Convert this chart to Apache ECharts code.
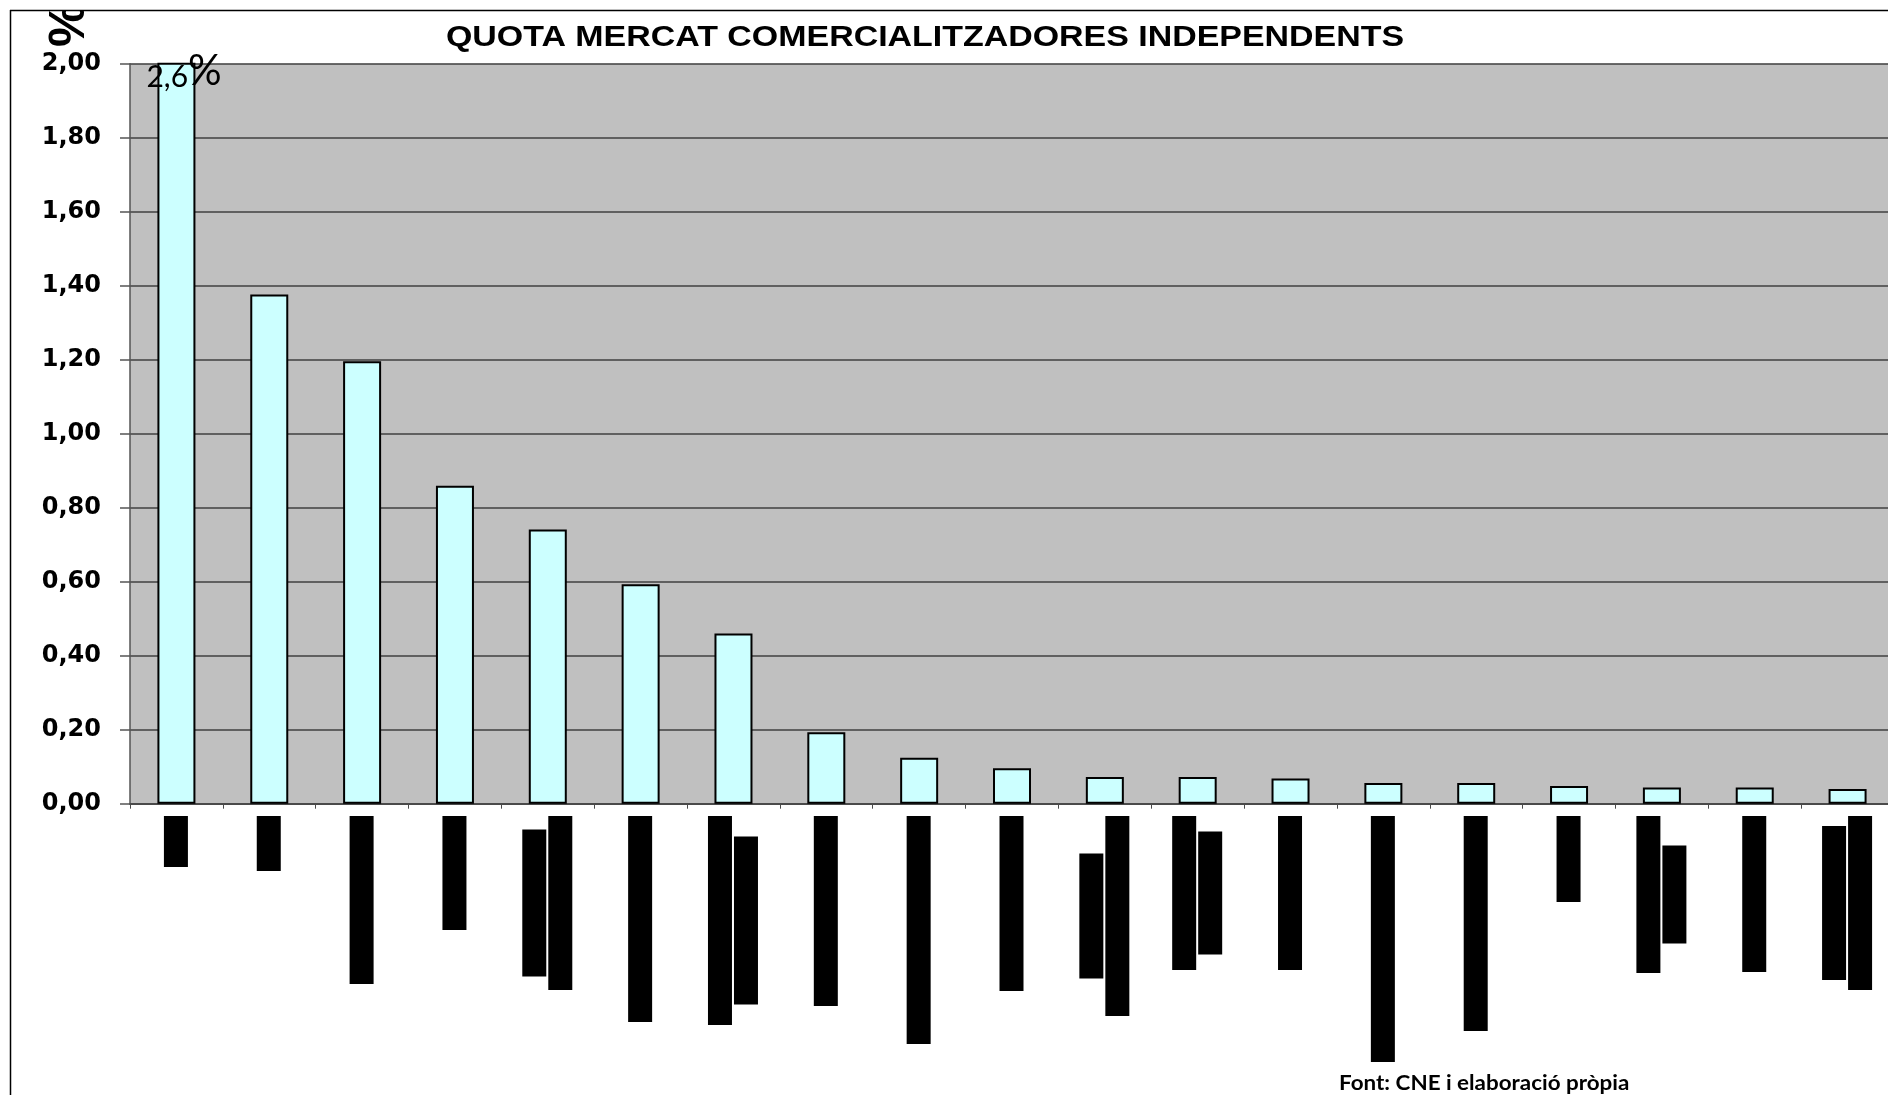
<!DOCTYPE html>
<html><head><meta charset="utf-8">
<script src="https://cdn.jsdelivr.net/npm/echarts@6/dist/echarts.min.js"></script>
<style>html,body{margin:0;padding:0;background:#fff;}#c{width:1888px;height:1095px;}</style>
</head><body><div id="c"></div>
<script>
// ---- data ----
const chartTitle = 'QUOTA MERCAT COMERCIALITZADORES INDEPENDENTS';
const sourceNote = 'Font: CNE i elaboració pròpia';
const yAxisName = '%';
const categories = ['C01','C02','C03','C04','C05','C06','C07','C08','C09','C10',
                    'C11','C12','C13','C14','C15','C16','C17','C18','C19'];
const quota = [2.6, 1.376, 1.196, 0.859, 0.741, 0.593, 0.46, 0.193, 0.124, 0.096,
               0.072, 0.072, 0.068, 0.056, 0.056, 0.048, 0.044, 0.044, 0.040];
const yMin = 0, yMax = 2, yStep = 0.2;
// category names are redacted in the source: length of each black bar (per label line)
const redactedLabelLines = [[51],[55],[168],[114],[147,174],[206],[209,168],[190],[228],[175],
                            [125,200],[154,123],[154],[246],[215],[86],[157,98],[156],[154,174]];

// ---- build ----
const redactData = [];
redactedLabelLines.forEach((lines, ci) => {
  const maxLen = Math.max(...lines);
  lines.forEach((len, li) => {
    const start = (maxLen - len) / 2;
    redactData.push([ci, start, start + len, li - (lines.length - 1) / 2]);
  });
});
const fmt = v => v.toFixed(2).replace('.', ',');

const chart = echarts.init(document.getElementById('c'), null, {renderer: 'canvas'});
const GRID_LEFT = 130, GRID_WIDTH = 1764;
chart.setOption({
  backgroundColor: '#fff',
  animation: false,
  grid: [
    {left: GRID_LEFT, width: GRID_WIDTH, top: 63.7, height: 740, show: true,
     backgroundColor: '#C0C0C0', borderWidth: 0, containLabel: false, outerBoundsMode: 'none'},
    {left: GRID_LEFT, width: GRID_WIDTH, top: 816, height: 260, show: false,
     containLabel: false, outerBoundsMode: 'none'}
  ],
  xAxis: [
    {type: 'category', gridIndex: 0, data: categories, boundaryGap: true,
     axisLine: {lineStyle: {color: '#4a4a4a', width: 2}},
     axisTick: {show: true, interval: 0, length: 5, lineStyle: {color: '#4a4a4a', width: 1}},
     axisLabel: {show: false}, splitLine: {show: false}},
    {type: 'category', gridIndex: 1, data: categories, boundaryGap: true, show: false}
  ],
  yAxis: [
    {type: 'value', gridIndex: 0, min: yMin, max: yMax, interval: yStep,
     axisLine: {show: true, lineStyle: {color: '#555', width: 1.5}},
     axisTick: {show: true, length: 10, lineStyle: {color: '#555', width: 1.5}},
     axisLabel: {margin: 29, formatter: fmt, color: '#000',
                 fontFamily: 'DejaVu Sans', fontWeight: 'bold', fontSize: 24},
     splitLine: {show: true, lineStyle: {color: '#404040', width: 1.5}}},
    {type: 'value', gridIndex: 1, min: 0, max: 260, inverse: true, show: false}
  ],
  series: [
    {type: 'bar', xAxisIndex: 0, yAxisIndex: 0, barWidth: 38,
     clip: true,
     itemStyle: {color: '#CCFFFF', borderColor: '#000', borderWidth: 2},
     label: {show: false, position: [-11, -12], align: 'left', verticalAlign: 'top',
             formatter: p => '{n|' + p.value.toFixed(1).replace('.', ',') + '}{p|%}',
             rich: {n: {fontFamily: 'Lato', fontSize: 30, color: '#000', verticalAlign: 'bottom'},
                    p: {fontFamily: 'Lato', fontSize: 42, color: '#000', verticalAlign: 'bottom'}}},
     data: quota.map((v, i) => i === 0 ? {value: v, label: {show: true}} : v)},
    {type: 'custom', xAxisIndex: 1, yAxisIndex: 1, silent: true,
     renderItem: (params, api) => {
       const ci = api.value(0), s = api.value(1), e = api.value(2), off = api.value(3);
       const p0 = api.coord([ci, s]), p1 = api.coord([ci, e]);
       const w = 24, pitch = 26;
       return {type: 'rect',
               shape: {x: p0[0] + off * pitch - w / 2 - 0.5, y: p0[1], width: w, height: p1[1] - p0[1]},
               style: {fill: '#000'}};
     },
     data: redactData}
  ],
  graphic: [
    {type: 'text', x: 70, y: 47, rotation: Math.PI / 2, z: 10,
     style: {text: yAxisName, font: 'bold 50px "Liberation Sans"', fill: '#000',
             align: 'left', verticalAlign: 'middle'}},
    {type: 'rect', shape: {x: 0, y: 0, width: 1888, height: 10}, z: 20, style: {fill: '#fff'}},
    {type: 'rect', shape: {x: 0, y: 0, width: 10, height: 1095}, z: 20, style: {fill: '#fff'}},
    {type: 'line', shape: {x1: 10, y1: 10.5, x2: 1888, y2: 10.5}, z: 30, style: {stroke: '#000', lineWidth: 1.5}},
    {type: 'line', shape: {x1: 10.5, y1: 10, x2: 10.5, y2: 1095}, z: 30, style: {stroke: '#000', lineWidth: 1.5}},
    {type: 'text', x: 925, y: 38, scaleX: 1.17, z: 10,
     style: {text: chartTitle, font: 'bold 29px "Liberation Sans"', fill: '#000',
             align: 'center', verticalAlign: 'middle'}},
    {type: 'text', x: 1339, y: 1084, scaleX: 1.12, z: 10,
     style: {text: sourceNote, font: 'bold 20px "Lato"', fill: '#000',
             align: 'left', verticalAlign: 'middle'}}
  ]
});
</script></body></html>
